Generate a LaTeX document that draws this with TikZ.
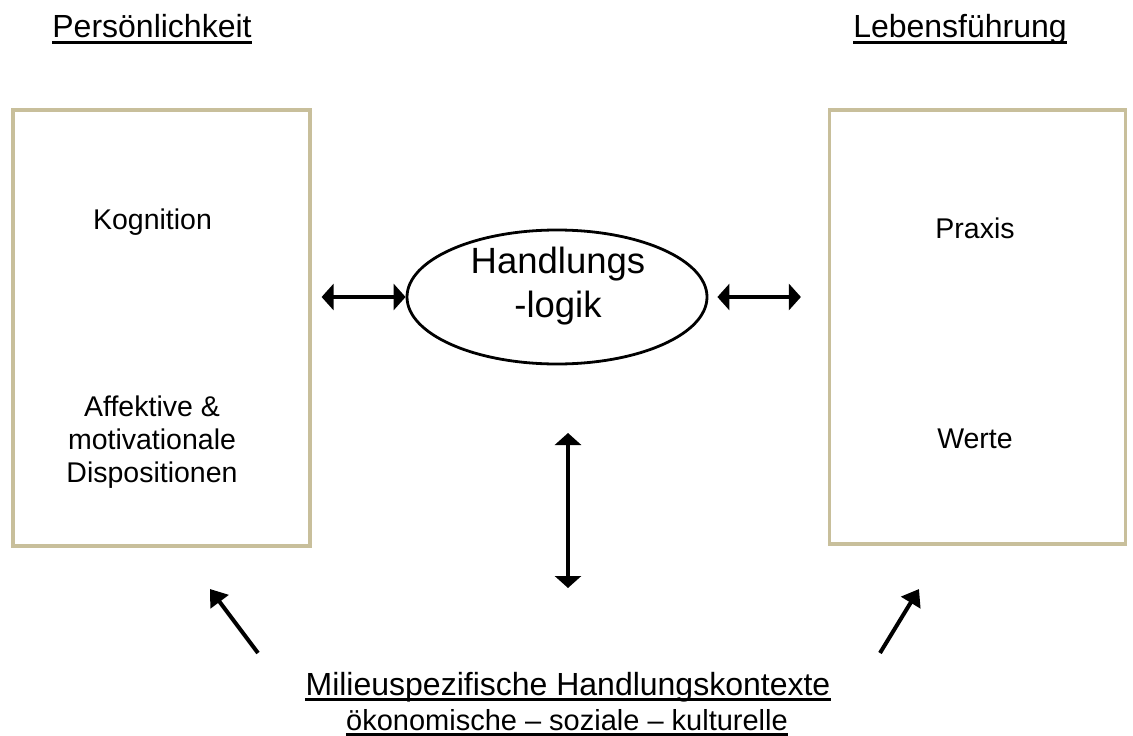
\documentclass[tikz,border=0pt]{standalone}
\usepackage{fontspec}
\setmainfont{Liberation Sans}
\usetikzlibrary{arrows.meta,shapes.geometric}
\definecolor{boxtan}{HTML}{C8BF9B}
\begin{document}
\begin{tikzpicture}[x=1pt,y=-1pt,
  panel/.style={draw=boxtan,line width=3.2pt,inner sep=0pt},
  boxtxt/.style={inner sep=0pt,font=\fontsize{28.5}{33}\selectfont,align=center},
  titletxt/.style={inner sep=0pt,anchor=base,font=\fontsize{32}{35}\selectfont},
  subtxt/.style={inner sep=0pt,anchor=base,font=\fontsize{29}{33}\selectfont},
  ultxt/.style={line width=3pt},
  biarrow/.style={line width=3.8pt,{Triangle[length=12pt,width=26pt]}-{Triangle[length=12pt,width=26pt]}},
  onearrow/.style={line width=4pt,-{Triangle[length=16pt,width=22pt]}}]
\useasboundingbox (0,0) rectangle (1133,736);

% boxes
\node[panel,minimum width=297pt,minimum height=436pt] (L) at (161.5,328) {};
\node[panel,minimum width=296pt,minimum height=434pt] (R) at (977.5,327) {};
\node[draw,ellipse,line width=2.8pt,minimum width=300pt,minimum height=134pt,inner sep=0pt] (E) at (557,297) {};

% titles
\node[titletxt] (TP) at (152,37) {Persönlichkeit};
\node[titletxt] (TL) at (960,37) {Lebensführung};
\draw[ultxt] ([yshift=-5pt]TP.base west) -- ([yshift=-5pt]TP.base east);
\draw[ultxt] ([yshift=-5pt]TL.base west) -- ([yshift=-5pt]TL.base east);

% box contents
\node[boxtxt,anchor=base] (K) at (152.5,229) {Kognition};
\node[boxtxt,anchor=north] (A) at (152,396) {Affektive \&\\motivationale\\Dispositionen};
\node[boxtxt,anchor=base] (P) at (975,238) {Praxis};
\node[boxtxt,anchor=base] (W) at (975,448) {Werte};

% ellipse text
\node[inner sep=0pt,anchor=north,align=center,font=\fontsize{36.5}{44}\selectfont] (H) at (558,247) {Handlungs\\-logik};

% bottom text
\node[titletxt] (M1) at (568,695) {Milieuspezifische Handlungskontexte};
\node[subtxt] (M2) at (567,730) {ökonomische – soziale – kulturelle};
\draw[ultxt] ([yshift=-4pt]M1.base west) -- ([yshift=-4pt]M1.base east);
\draw[ultxt] ([yshift=-4pt]M2.base west) -- ([yshift=-4pt]M2.base east);

% arrows
\draw[biarrow] ([xshift=10pt]L.east |- E.west) -- (E.west);
\draw[biarrow] ([xshift=9pt]E.east) -- ([xshift=-27pt]R.west |- E.east);
\coordinate (V1) at (568,433);
\coordinate (V2) at (568,588);
\draw[biarrow] (V1) -- (V2);
\coordinate (DL1) at (258,653);
\coordinate (DL2) at (210,589);
\coordinate (DR1) at (880,653);
\coordinate (DR2) at (919,589);
\draw[onearrow] (DL1) -- (DL2);
\draw[onearrow] (DR1) -- (DR2);
\end{tikzpicture}
\end{document}
